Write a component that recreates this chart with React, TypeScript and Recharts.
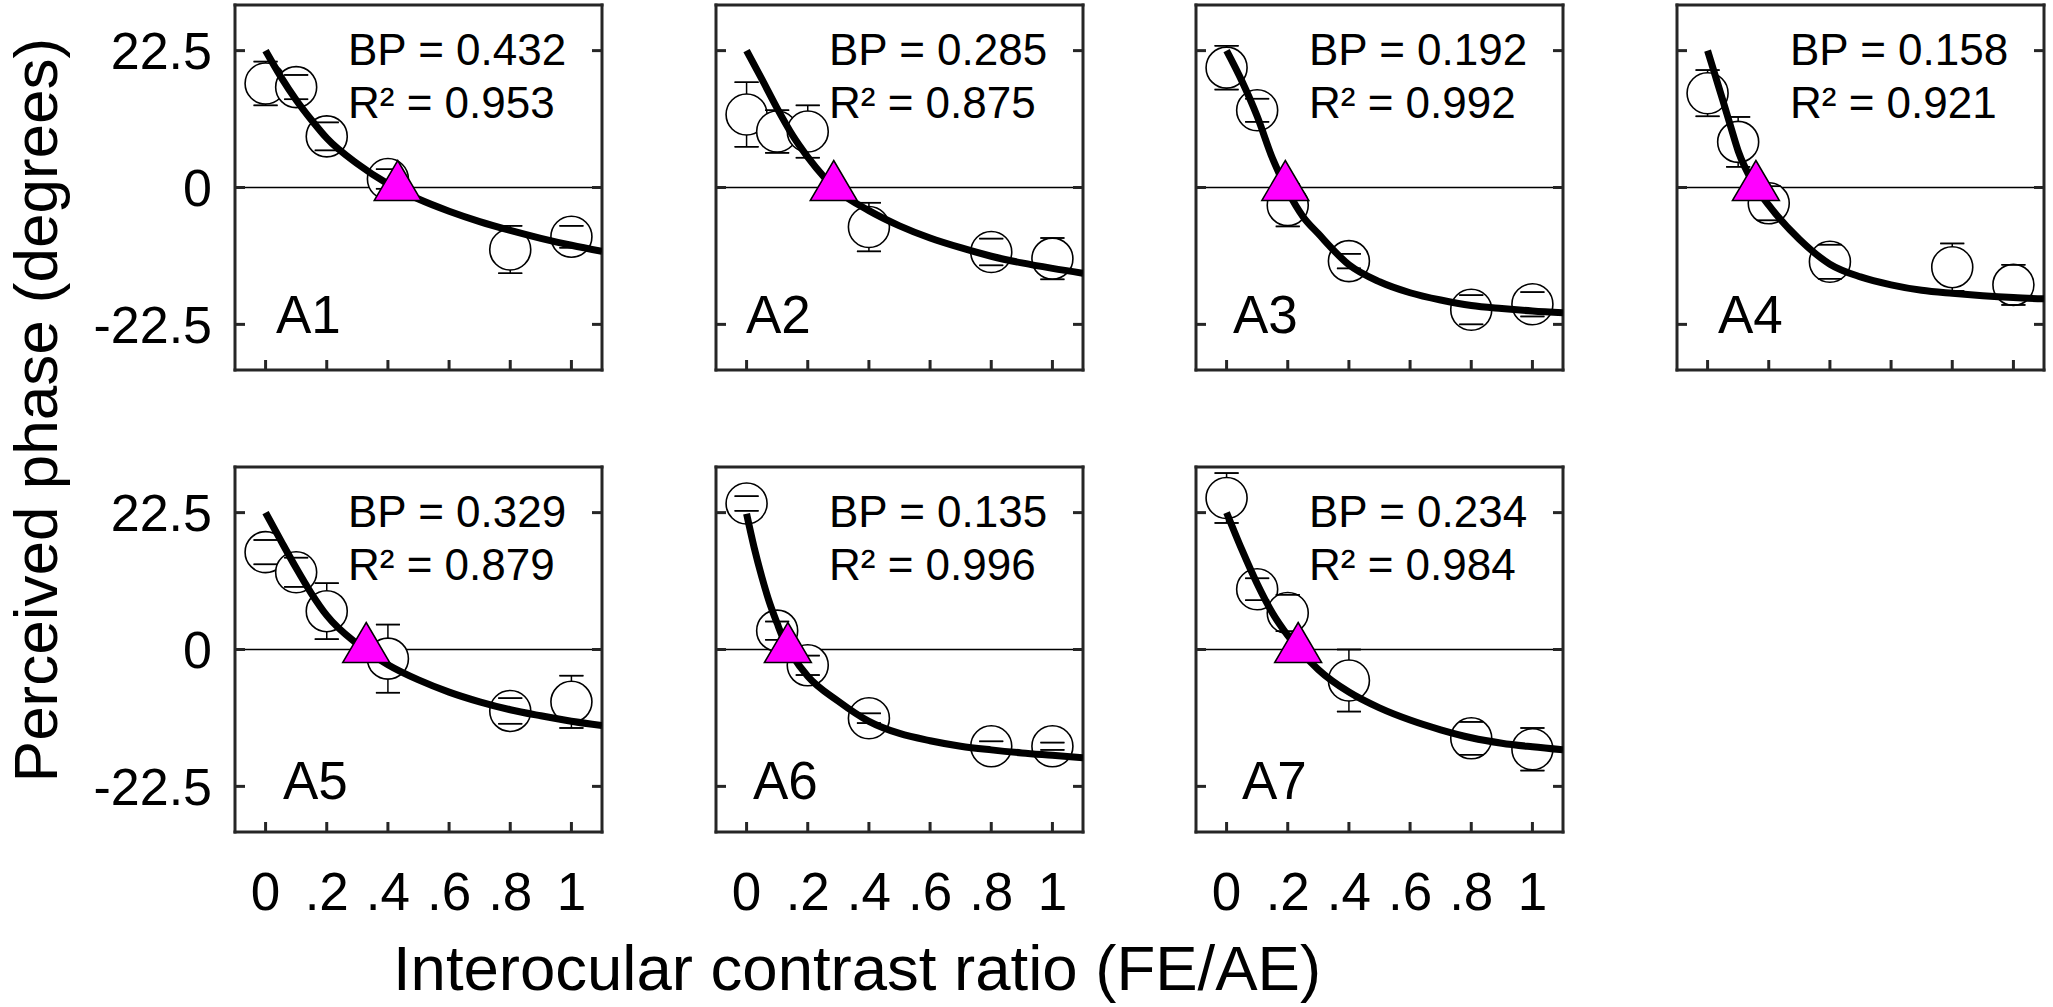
import React from 'react';
import { ComposedChart, XAxis, YAxis, Line, Scatter, ErrorBar, ReferenceLine } from 'recharts';

const FONT = '"Liberation Sans", Arial, Helvetica, sans-serif';

// contrast ratio levels tested (FE/AE)
const levels = [0, 0.1, 0.2, 0.4, 0.8, 1];
const xTicks = [0, 0.2, 0.4, 0.6, 0.8, 1];
const xTickLabels = ['0', '.2', '.4', '.6', '.8', '1'];
const yTicks = [-22.5, 0, 22.5];

const panelNames = ['A1', 'A2', 'A3', 'A4', 'A5', 'A6', 'A7'];
const balancePoints = [0.432, 0.285, 0.192, 0.158, 0.329, 0.135, 0.234];
const rSquared = [0.953, 0.875, 0.992, 0.921, 0.879, 0.996, 0.984];

// mean perceived phase and error per observer
const meanA1 = [17.1, 16.5, 8.4, 1.4, -10.2, -8.1];
const errA1 = [3.6, 2.0, 2.3, 1.6, 3.9, 1.8];
const meanA2 = [12.0, 9.2, 9.2, -6.5, -10.6, -11.7];
const errA2 = [5.3, 3.5, 4.3, 4.0, 2.2, 3.4];
const meanA3 = [19.7, 12.7, -2.9, -12.1, -20.1, -19.2];
const errA3 = [3.6, 1.9, 3.5, 1.2, 2.4, 2.0];
const meanA4 = [15.5, 7.5, -2.6, -12.2, -13.1, -16.0];
const errA4 = [3.8, 4.1, 2.8, 2.8, 3.9, 3.3];
const meanA5 = [16.0, 12.7, 6.3, -1.5, -10.1, -8.6];
const errA5 = [2.0, 2.4, 4.6, 5.6, 2.1, 4.3];
const meanA6 = [24.0, 3.1, -2.6, -11.3, -15.9, -15.9];
const errA6 = [1.2, 1.5, 1.6, 0.8, 0.8, 0.6];
const meanA7 = [24.9, 9.9, 6.0, -5.1, -14.6, -16.4];
const errA7 = [4.1, 1.8, 3.0, 5.1, 2.7, 3.5];

// fitted curves
const fitXA1 = [0, 0.05, 0.1, 0.15, 0.2, 0.3, 0.4, 0.5, 0.6, 0.7, 0.8, 0.9, 1, 1.1];
const fitYA1 = [22.5, 18.2, 14.4, 11.1, 8.1, 3.9, 0.6, -1.9, -3.9, -5.6, -7.05, -8.35, -9.5, -10.5];
const fitXA2 = [0, 0.05, 0.1, 0.15, 0.2, 0.3, 0.4, 0.5, 0.6, 0.7, 0.8, 0.9, 1, 1.1];
const fitYA2 = [22.5, 17.8, 13.0, 8.6, 5.0, -0.6, -3.8, -6.3, -8.3, -9.9, -11.3, -12.4, -13.3, -14.1];
const fitXA3 = [0, 0.05, 0.1, 0.15, 0.2, 0.25, 0.3, 0.4, 0.5, 0.6, 0.7, 0.8, 0.9, 1, 1.1];
const fitYA3 = [22.5, 17.5, 11.7, 4.8, -0.6, -4.8, -7.6, -12.7, -15.5, -17.3, -18.5, -19.4, -19.9, -20.3, -20.6];
const fitXA4 = [0, 0.025, 0.05, 0.075, 0.1, 0.15, 0.2, 0.3, 0.4, 0.5, 0.6, 0.7, 0.8, 0.9, 1, 1.1];
const fitYA4 = [22.5, 18.4, 14.3, 10.1, 6.0, 0.7, -2.9, -8.5, -12.6, -14.7, -16.0, -16.9, -17.4, -17.8, -18.1, -18.3];
const fitXA5 = [0, 0.05, 0.1, 0.15, 0.2, 0.3, 0.4, 0.5, 0.6, 0.7, 0.8, 0.9, 1, 1.1];
const fitYA5 = [22.5, 17.9, 13.4, 9.2, 5.6, 0.9, -2.5, -5.0, -7.0, -8.6, -9.9, -10.9, -11.8, -12.5];
const fitXA6 = [0, 0.025, 0.05, 0.075, 0.1, 0.125, 0.15, 0.2, 0.3, 0.4, 0.5, 0.6, 0.7, 0.8, 0.9, 1, 1.1];
const fitYA6 = [22.3, 16.7, 11.9, 7.7, 4.3, 1.2, -1.0, -4.4, -8.5, -11.8, -13.8, -15.0, -15.9, -16.5, -17.0, -17.4, -17.8];
const fitXA7 = [0, 0.05, 0.1, 0.15, 0.2, 0.3, 0.4, 0.5, 0.6, 0.7, 0.8, 0.9, 1, 1.1];
const fitYA7 = [22.5, 16.4, 10.8, 6.0, 2.3, -3.3, -7.0, -9.6, -11.6, -13.2, -14.5, -15.4, -16.0, -16.5];

const means = [meanA1, meanA2, meanA3, meanA4, meanA5, meanA6, meanA7];
const errs = [errA1, errA2, errA3, errA4, errA5, errA6, errA7];
const fitXs = [fitXA1, fitXA2, fitXA3, fitXA4, fitXA5, fitXA6, fitXA7];
const fitYs = [fitYA1, fitYA2, fitYA3, fitYA4, fitYA5, fitYA6, fitYA7];

// layout
const colLeft = [235, 716, 1196, 1677];
const rowTop = [5, 467];
const BOX_W = 367;
const BOX_H = 365;
const PAD_L = 175;
const PAD_T = 5;
const PAD_R = 6;
const PAD_B = 95;
const grid = [[0, 0], [1, 0], [2, 0], [3, 0], [0, 1], [1, 1], [2, 1]];
const nameDx = [41, 30, 37, 41, 48, 37, 46];
const nameDy = [328, 332];

const boxLine = { stroke: '#262626', strokeWidth: 3, strokeLinecap: 'square' as const };
const tickMark = { stroke: '#262626', strokeWidth: 3 };
const noLabel = () => '';

function Panel({ idx }: { idx: number }) {
  const [c, r] = grid[idx];
  const showX = r === 1;
  const showY = c === 0;
  const points = levels.map((x, i) => ({ x, y: means[idx][i], e: errs[idx][i] }));
  const caps = points.flatMap((d) => [
    { x: d.x, y: d.y + d.e, e: 0.0001 },
    { x: d.x, y: d.y - d.e, e: 0.0001 },
  ]);
  const fit = fitXs[idx].map((x, i) => ({ x, y: fitYs[idx][i] }));
  const bp = [{ x: balancePoints[idx], y: 0 }];

  return (
    <div style={{ position: 'absolute', left: colLeft[c] - PAD_L, top: rowTop[r] - PAD_T }}>
      <ComposedChart
        width={PAD_L + BOX_W + PAD_R}
        height={PAD_T + BOX_H + PAD_B}
        margin={{ top: 0, right: 0, bottom: 0, left: 0 }}
      >
        <XAxis
          type="number"
          dataKey="x"
          domain={[-0.1, 1.1]}
          ticks={xTicks}
          interval={0}
          allowDataOverflow
          height={PAD_B}
          tickSize={-10}
          tickMargin={50}
          axisLine={boxLine}
          tickLine={tickMark}
          tick={{ fill: '#000', fontSize: 53, fontFamily: FONT }}
          tickFormatter={(v: number) => (showX ? xTickLabels[xTicks.indexOf(v)] : '')}
        />
        <XAxis
          xAxisId="t"
          orientation="top"
          type="number"
          domain={[-0.1, 1.1]}
          ticks={xTicks}
          interval={0}
          allowDataOverflow
          height={PAD_T}
          tickSize={-10}
          axisLine={boxLine}
          tickLine={tickMark}
          tickFormatter={noLabel}
        />
        <YAxis
          type="number"
          dataKey="y"
          domain={[-30, 30]}
          ticks={yTicks}
          interval={0}
          allowDataOverflow
          width={PAD_L}
          tickSize={-10}
          tickMargin={33}
          axisLine={boxLine}
          tickLine={tickMark}
          tick={{ fill: '#000', fontSize: 52, fontFamily: FONT }}
          tickFormatter={(v: number) => (showY ? String(v) : '')}
        />
        <YAxis
          yAxisId="r"
          orientation="right"
          type="number"
          domain={[-30, 30]}
          ticks={yTicks}
          interval={0}
          allowDataOverflow
          width={PAD_R}
          tickSize={-10}
          axisLine={boxLine}
          tickLine={tickMark}
          tickFormatter={noLabel}
        />
        <ReferenceLine y={0} stroke="#000" strokeWidth={1.5} />
        <Scatter data={points} shape={() => <g />} isAnimationActive={false} zIndex={600}>
          <ErrorBar dataKey="e" direction="y" width={0} stroke="#000" strokeWidth={1.5} zIndex={600} />
        </Scatter>
        <Scatter
          data={points}
          isAnimationActive={false}
          zIndex={610}
          shape={(s: any) => (
            <circle cx={s.cx} cy={s.cy} r={20.5} fill="#fff" stroke="#000" strokeWidth={1.6} />
          )}
        />
        <Scatter data={caps} shape={() => <g />} isAnimationActive={false} zIndex={620}>
          <ErrorBar dataKey="e" direction="y" width={12} stroke="#000" strokeWidth={1.5} zIndex={620} />
        </Scatter>
        <Line
          data={fit}
          dataKey="y"
          type="monotone"
          stroke="#000"
          strokeWidth={7}
          dot={false}
          activeDot={false}
          isAnimationActive={false}
          zIndex={650}
        />
        <Scatter
          data={bp}
          isAnimationActive={false}
          zIndex={700}
          shape={(s: any) => (
            <polygon
              points={`${s.cx},${s.cy - 27} ${s.cx + 23.5},${s.cy + 13} ${s.cx - 23.5},${s.cy + 13}`}
              fill="#ff00ff"
              stroke="#000"
              strokeWidth={1.5}
            />
          )}
        />
      </ComposedChart>
    </div>
  );
}

export default function App() {
  return (
    <div
      style={{
        position: 'absolute',
        left: 0,
        top: 0,
        width: 2053,
        height: 1007,
        background: '#fff',
        overflow: 'hidden',
      }}
    >
      {panelNames.map((_, i) => (
        <Panel key={i} idx={i} />
      ))}
      <svg
        width={2053}
        height={1007}
        style={{ position: 'absolute', left: 0, top: 0, pointerEvents: 'none' }}
        fontFamily={FONT}
      >
        {panelNames.map((name, i) => {
          const [c, r] = grid[i];
          const x0 = colLeft[c];
          const y0 = rowTop[r];
          return (
            <g key={name}>
              <text x={x0 + 113} y={y0 + 60} fontSize={44} fill="#000">
                {`BP = ${balancePoints[i].toFixed(3)}`}
              </text>
              <text x={x0 + 113} y={y0 + 113} fontSize={44} fill="#000">
                {`R² = ${rSquared[i].toFixed(3)}`}
              </text>
              <text x={x0 + nameDx[i]} y={y0 + nameDy[r]} fontSize={53} fill="#000">
                {name}
              </text>
            </g>
          );
        })}
        <text x={857} y={990} fontSize={63.5} textAnchor="middle" fill="#000">
          Interocular contrast ratio (FE/AE)
        </text>
        <text
          x={0}
          y={0}
          fontSize={62}
          textAnchor="middle"
          fill="#000"
          transform="translate(57,410) rotate(-90)"
        >
          Perceived phase (degrees)
        </text>
      </svg>
    </div>
  );
}
